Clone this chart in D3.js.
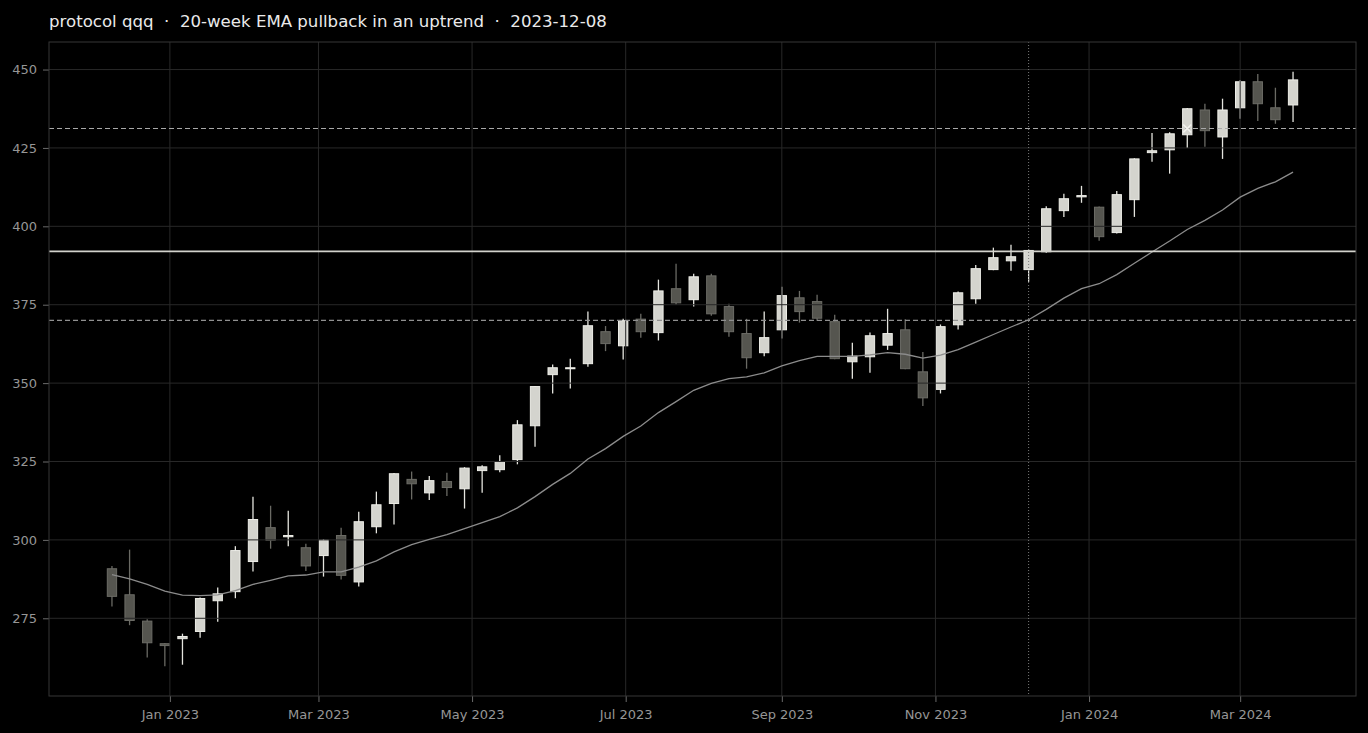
<!DOCTYPE html>
<html>
<head>
<meta charset="utf-8">
<script src="https://cdn.jsdelivr.net/npm/d3@7"></script>
<style>
  html, body { margin: 0; padding: 0; background: #000; }
  svg { display: block; }
</style>
</head>
<body>
<div id="chart"></div>
<script>
// weekly bars (friday close)
var dates = ["2022-12-09","2022-12-16","2022-12-23","2022-12-30",
  "2023-01-06","2023-01-13","2023-01-20","2023-01-27","2023-02-03","2023-02-10","2023-02-17","2023-02-24",
  "2023-03-03","2023-03-10","2023-03-17","2023-03-24","2023-03-31","2023-04-07","2023-04-14","2023-04-21",
  "2023-04-28","2023-05-05","2023-05-12","2023-05-19","2023-05-26","2023-06-02","2023-06-09","2023-06-16",
  "2023-06-23","2023-06-30","2023-07-07","2023-07-14","2023-07-21","2023-07-28","2023-08-04","2023-08-11",
  "2023-08-18","2023-08-25","2023-09-01","2023-09-08","2023-09-15","2023-09-22","2023-09-29","2023-10-06",
  "2023-10-13","2023-10-20","2023-10-27","2023-11-03","2023-11-10","2023-11-17","2023-11-24","2023-12-01",
  "2023-12-08","2023-12-15","2023-12-22","2023-12-29","2024-01-05","2024-01-12","2024-01-19","2024-01-26",
  "2024-02-02","2024-02-09","2024-02-16","2024-02-23","2024-03-01","2024-03-08","2024-03-15","2024-03-22"];

var open  = [290.8,282.5,274.1,266.9,268.5,270.8,280.6,283.5,293.1,303.9,301.0,297.5,295.0,301.4,286.6,304.2,
  311.6,319.3,315.0,318.6,316.3,322.1,322.4,325.6,336.4,352.7,354.6,356.2,366.4,361.9,370.4,366.1,380.1,376.6,
  384.2,374.4,365.8,359.7,367.0,377.2,376.0,369.6,356.8,358.4,362.1,367.0,353.6,348.0,368.6,376.9,386.2,389.0,
  386.2,391.9,405.0,409.4,406.1,398.0,408.5,423.5,424.4,429.2,437.1,428.5,437.8,446.1,437.8,438.7];
var high  = [291.7,296.9,274.7,267.1,270.1,281.6,284.8,298.0,313.8,310.9,309.3,298.8,300.2,303.9,309.0,315.4,
  321.3,321.8,320.4,321.4,323.2,323.8,327.0,338.2,349.1,355.9,357.8,372.8,368.2,370.5,372.1,383.0,388.1,384.9,
  384.9,375.3,370.5,372.8,380.7,379.4,378.2,371.8,362.9,366.1,373.7,370.4,359.9,368.7,379.2,387.7,393.2,394.1,
  392.6,406.4,410.4,412.9,406.3,411.3,421.7,429.8,430.0,437.7,439.1,440.7,446.7,448.6,444.2,449.3];
var low   = [278.8,272.8,262.5,259.7,260.2,268.8,273.9,281.4,289.9,297.2,298.0,290.1,288.3,287.4,285.1,302.1,
  304.9,312.9,312.7,314.0,310.0,315.0,321.6,324.1,329.7,346.7,348.3,355.2,360.2,357.5,364.5,363.6,375.0,374.4,
  371.5,364.8,354.6,358.6,364.2,369.3,369.9,357.6,351.4,353.3,360.6,354.4,342.7,346.7,367.1,375.3,386.0,385.8,
  382.3,391.6,403.0,407.5,395.4,397.7,403.0,420.6,416.8,425.0,425.4,421.5,434.3,433.6,432.7,433.3];
var close = [282.0,274.3,267.2,266.3,269.2,281.3,282.8,296.6,306.5,299.9,301.4,291.7,299.9,288.7,305.8,311.2,
  321.1,317.9,318.9,316.7,322.9,323.3,325.0,336.7,348.9,354.9,354.9,368.3,362.6,369.9,366.4,379.4,375.6,383.9,
  372.1,366.4,358.1,364.5,377.9,372.8,370.7,357.8,358.6,365.1,365.8,354.6,345.3,368.0,378.8,386.5,390.0,390.3,
  392.3,405.6,408.8,409.8,396.7,410.1,421.5,424.1,429.5,437.5,430.5,437.1,446.1,439.1,434.0,446.7];
var ema20 = [288.9,287.6,285.8,283.7,282.4,282.2,282.5,283.8,285.8,287.1,288.5,288.8,289.8,289.8,291.3,293.3,
  296.2,298.5,300.2,301.7,303.6,305.5,307.4,310.2,313.8,317.7,321.2,325.8,329.1,333.0,336.3,340.6,344.1,347.7,
  349.9,351.4,352.0,353.3,355.5,357.2,358.5,358.5,358.5,359.0,359.7,359.2,358.0,358.9,360.7,363.1,365.5,367.9,
  370.2,373.5,377.1,380.1,381.7,384.6,388.2,391.8,395.3,399.0,401.9,405.2,409.3,412.1,414.2,417.3];

var yTicks = [275, 300, 325, 350, 375, 400, 425, 450];
var xTicks = ["2023-01-01","2023-03-01","2023-05-01","2023-07-01","2023-09-01","2023-11-01","2024-01-01","2024-03-01"];

var pivotLevel = 392.0;
var dashedLevels = [431.2, 370.0];
var signalDate = "2023-12-08";
var markDate = "2024-02-09", markPrice = 431.2;
var title = "protocol qqq  \u00b7  20-week EMA pullback in an uptrend  \u00b7  2023-12-08";

var W = 1368, H = 733;
var margin = {left: 49, right: 12, top: 42, bottom: 37};
var parse = d3.timeParse("%Y-%m-%d");
var DAY = 86400000;

var bars = dates.map(function (d, i) {
  return {date: parse(d), o: open[i], h: high[i], l: low[i], c: close[i], ema: ema20[i]};
});

var svg = d3.select("#chart").append("svg")
  .attr("width", W).attr("height", H)
  .style("background", "#000");

var x0 = bars[0].date, x1 = bars[bars.length - 1].date;
var x = d3.scaleTime()
  .domain([new Date(+x0 - 25 * DAY), new Date(+x1 + 25 * DAY)])
  .range([margin.left, W - margin.right]);

var lo = d3.min(low), hi = d3.max(high), pad = (hi - lo) * 0.05;
var y = d3.scaleLinear()
  .domain([lo - pad, hi + pad])
  .range([H - margin.bottom, margin.top]);

var bodyW = x(new Date(+x0 + 3.7 * DAY)) - x(x0);

// candles
var g = svg.append("g");
var candle = g.selectAll("g.c").data(bars).enter().append("g").attr("class", "c");

candle.append("line")
  .attr("x1", function (d) { return x(d.date); })
  .attr("x2", function (d) { return x(d.date); })
  .attr("y1", function (d) { return y(d.h); })
  .attr("y2", function (d) { return y(d.l); })
  .style("stroke", function (d) { return d.c >= d.o ? "#e4e4de" : "#6a6a64"; })
  .style("stroke-width", 1.3);

candle.append("rect")
  .attr("x", function (d) { return x(d.date) - bodyW / 2; })
  .attr("width", bodyW)
  .attr("y", function (d) { return y(Math.max(d.o, d.c)); })
  .attr("height", function (d) { return Math.max(1, Math.abs(y(d.o) - y(d.c))); })
  .style("fill", function (d) { return d.c >= d.o ? "#d4d4ce" : "#55554f"; })
  .style("stroke", function (d) { return d.c >= d.o ? "#eeeee8" : "#6c6c66"; })
  .style("stroke-width", 1);

// grid sits over the candles
var grid = svg.append("g");
grid.selectAll("line.gy").data(yTicks).enter().append("line")
  .attr("x1", margin.left).attr("x2", W - margin.right)
  .attr("y1", function (d) { return y(d); }).attr("y2", function (d) { return y(d); })
  .style("stroke", "#282828").style("stroke-width", 1);
grid.selectAll("line.gx").data(xTicks).enter().append("line")
  .attr("y1", margin.top).attr("y2", H - margin.bottom)
  .attr("x1", function (d) { return x(parse(d)); }).attr("x2", function (d) { return x(parse(d)); })
  .style("stroke", "#282828").style("stroke-width", 1);

// ema
svg.append("path")
  .datum(bars)
  .attr("d", d3.line().x(function (d) { return x(d.date); }).y(function (d) { return y(d.ema); }))
  .style("fill", "none")
  .style("stroke", "#8c8c8c")
  .style("stroke-width", 1.3);

// levels
svg.append("line")
  .attr("x1", margin.left).attr("x2", W - margin.right)
  .attr("y1", y(pivotLevel)).attr("y2", y(pivotLevel))
  .style("stroke", "#d2d2cc").style("stroke-width", 1.6);

svg.selectAll("line.dl").data(dashedLevels).enter().append("line")
  .attr("x1", margin.left).attr("x2", W - margin.right)
  .attr("y1", function (d) { return y(d); }).attr("y2", function (d) { return y(d); })
  .style("stroke", function (d, i) { return i == 0 ? "#a8a8a8" : "#909090"; })
  .style("stroke-width", 1.2)
  .style("stroke-dasharray", "5,3");

var sx = x(parse(signalDate));
svg.append("line")
  .attr("x1", sx).attr("x2", sx)
  .attr("y1", margin.top).attr("y2", H - margin.bottom)
  .style("stroke", "#7a7a7a").style("stroke-width", 1)
  .style("stroke-dasharray", "1,2");

// small cross where price met the upper level
var mx = x(parse(markDate)), my = y(markPrice);
svg.append("path")
  .attr("d", "M" + (mx - 4) + "," + (my - 4) + "L" + (mx + 4) + "," + (my + 4) +
             "M" + (mx - 4) + "," + (my + 4) + "L" + (mx + 4) + "," + (my - 4))
  .style("stroke", "#f2f2ee").style("stroke-width", 1.6);

// axes
var xAxis = d3.axisBottom(x)
  .tickValues(xTicks.map(parse))
  .tickFormat(d3.timeFormat("%b %Y"))
  .tickSize(6).tickPadding(8);
var yAxis = d3.axisLeft(y)
  .tickValues(yTicks)
  .tickSize(6).tickPadding(6);

var gx = svg.append("g").attr("transform", "translate(0," + (H - margin.bottom) + ")").call(xAxis);
var gy = svg.append("g").attr("transform", "translate(" + margin.left + ",0)").call(yAxis);
[gx, gy].forEach(function (a) {
  a.select(".domain").remove();
  a.selectAll(".tick line").style("stroke", "#6a6a6a");
  a.selectAll(".tick text")
    .style("fill", "#969696")
    .style("font-family", "DejaVu Sans, sans-serif")
    .style("font-size", "13px");
});

// frame
svg.append("rect")
  .attr("x", margin.left).attr("y", margin.top)
  .attr("width", W - margin.right - margin.left)
  .attr("height", H - margin.bottom - margin.top)
  .style("fill", "none").style("stroke", "#363636").style("stroke-width", 1);

svg.append("text")
  .attr("x", margin.left).attr("y", 26.5)
  .attr("xml:space", "preserve")
  .style("white-space", "pre")
  .style("fill", "#eaeaea")
  .style("font-family", "DejaVu Sans, sans-serif")
  .style("font-size", "16.6px")
  .text(title);
</script>
</body>
</html>
